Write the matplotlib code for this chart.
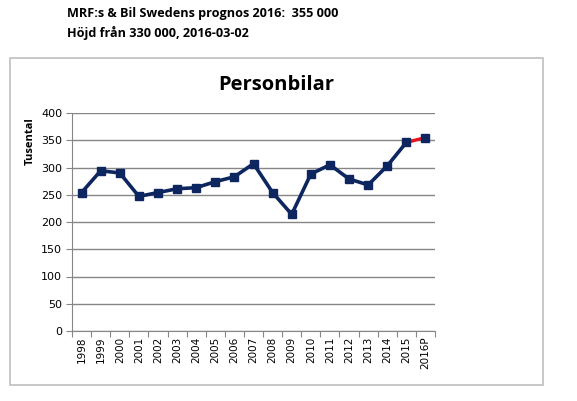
import matplotlib.pyplot as plt
from matplotlib.patches import Rectangle

years = ["1998", "1999", "2000", "2001", "2002", "2003", "2004", "2005", "2006", "2007",
         "2008", "2009", "2010", "2011", "2012", "2013", "2014", "2015", "2016P"]
cars = [254, 294, 290, 247, 254, 261, 263, 274, 283, 307,
        254, 214, 288, 305, 279, 268, 303, 346, 355]
yticks = [0, 50, 100, 150, 200, 250, 300, 350, 400]

navy = "#0d2660"
grid_col = "#868686"

fig = plt.figure(figsize=(5.77, 4.01), dpi=100)

# outer chart frame
fig.patches.append(Rectangle((10 / 577, 1 - 385 / 401), 533 / 577, 327 / 401,
                             transform=fig.transFigure, fill=False,
                             edgecolor="#bfbfbf", linewidth=1.2))

fig.text(67 / 577, 1 - 13 / 401, "MRF:s & Bil Swedens prognos 2016:  355 000",
         fontsize=9.1, fontweight="bold", family="Open Sans", va="center")
fig.text(67 / 577, 1 - 33 / 401, "Höjd från 330 000, 2016-03-02",
         fontsize=9.1, fontweight="bold", family="Open Sans", va="center")

fig.text(276 / 577, 1 - 85 / 401, "Personbilar", fontsize=14.5, fontweight="bold",
         family="Open Sans", ha="center", va="center")
fig.text(30 / 577, 1 - 141 / 401, "Tusental", fontsize=8, fontweight="bold",
         family="Open Sans", rotation=90, ha="center", va="center")

ax = fig.add_axes([72 / 577, 1 - 331 / 401, 363 / 577, 218 / 401])
x = list(range(len(years)))

ax.plot(x[-2:], cars[-2:], color="#e8141c", linewidth=2.4, zorder=3)
ax.plot(x[:-1], cars[:-1], color=navy, linewidth=2.6, zorder=4)
ax.plot(x, cars, linestyle="none", marker="s", markersize=5.5, color=navy, zorder=5)

ax.set_xlim(-0.5, len(years) - 0.5)
ax.set_ylim(0, 400)
ax.set_yticks(yticks)
ax.set_yticklabels([str(v) for v in yticks], fontsize=8, family="DejaVu Sans")
ax.yaxis.grid(True, color=grid_col, linewidth=1)
ax.set_axisbelow(True)

ax.set_xticks([i - 0.5 for i in range(len(years) + 1)])
ax.set_xticklabels([])
ax.set_xticks(x, minor=True)
ax.set_xticklabels(years, minor=True, rotation=90, fontsize=7.5, family="DejaVu Sans")
ax.tick_params(axis="x", which="minor", length=0, pad=4)
ax.tick_params(axis="x", which="major", length=4, color=grid_col)
ax.tick_params(axis="y", length=4, color=grid_col, pad=3)

for s in ["top", "right"]:
    ax.spines[s].set_visible(False)
for s in ["left", "bottom"]:
    ax.spines[s].set_color(grid_col)

fig.savefig("out.png", dpi=100)
